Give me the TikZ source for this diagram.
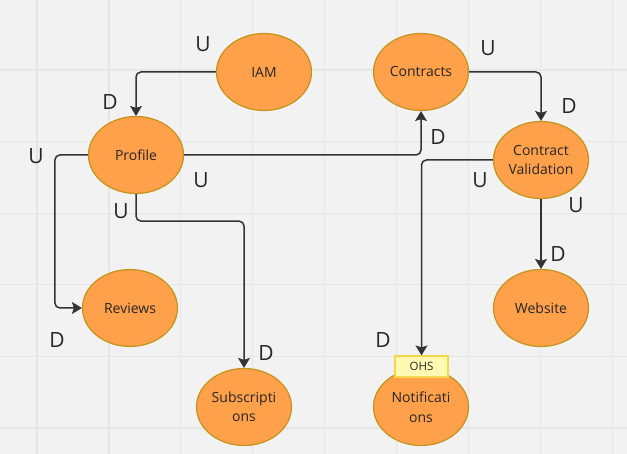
\documentclass[tikz,border=0pt]{standalone}
\usepackage{fontspec}
\setmainfont{Open Sans}
\usetikzlibrary{shapes,arrows.meta,calc,positioning}

\definecolor{bgcol}{HTML}{F2F2F2}
\definecolor{gridcol}{HTML}{E6E6E6}
\definecolor{ballfill}{HTML}{FFA04B}
\definecolor{balledge}{HTML}{C4931A}
\definecolor{linecol}{HTML}{333333}
\definecolor{notefill}{HTML}{FFF9B1}
\definecolor{noteedge}{HTML}{F5D84A}

\begin{document}
\begin{tikzpicture}[x=1pt,y=-1pt]

\tikzset{ctx/.style = {shape=ellipse,draw=balledge,fill=ballfill,line width=1.2pt,
  minimum width=95pt,minimum height=77pt,inner sep=0pt,align=center,
  text=black!85,font=\fontsize{14}{19.5}\selectfont}}
\tikzset{edge/.style = {->,line width=1.5pt,draw=linecol,rounded corners=5pt,
  > = {Stealth[length=10pt,width=12pt,inset=2pt]}}}
\tikzset{rel/.style = {text=black!85,font=\fontsize{21}{21}\selectfont}}

% background
\fill[bgcol] (0,0) rectangle (627,454);
\useasboundingbox (0,0) rectangle (627,454);
\foreach \gx in {37,108.9,...,613} \draw[gridcol,line width=1.2pt] (\gx,0) -- (\gx,454);
\foreach \gy in {70,141.6,...,429} \draw[gridcol,line width=1.2pt] (0,\gy) -- (627,\gy);

% contexts
\node[ctx] (iam) at (264,72) {IAM};
\node[ctx] (profile) at (136,155) {Profile};
\node[ctx] (contracts) at (421,72) {Contracts};
\node[ctx] (valid) at (541,160) {Contract\\Validation};
\node[ctx] (reviews) at (130,308) {Reviews};
\node[ctx] (subs) at (244,407) {Subscripti\\ons};
\node[ctx] (website) at (541,308) {Website};
\node[ctx] (notif) at (421,407) {Notificati\\ons};
\node[draw=noteedge,fill=notefill,line width=1.2pt,minimum width=53pt,minimum height=21pt,
  inner sep=0pt,text=black!85,font=\fontsize{11.5}{11.5}\selectfont] (ohs) at (421.5,366.5) {OHS};

%edges
\draw[edge] (iam.west) -| (profile.north);
\draw[edge] (profile.east) -| (contracts.south);
\draw[edge] (contracts.east) -| (valid.north);
\draw[edge] (valid.west) -| (ohs.north);
\draw[edge] (valid.south) -- (website.north);
\draw[edge] (profile.west) -- ++(-33,0) |- (reviews.west);
\draw[edge] (profile.south) -- ++(0,27) -| (subs.north);

% U / D labels
\node[rel] (u1) at (203,44) {U};
\node[rel] (d1) at (110,102) {D};
\node[rel] (u2) at (201,180) {U};
\node[rel] (d2) at (438,137) {D};
\node[rel] (u3) at (488,48) {U};
\node[rel] (d3) at (569,106) {D};
\node[rel] (u4) at (480,180) {U};
\node[rel] (d4) at (383,340) {D};
\node[rel] (u5) at (576,205) {U};
\node[rel] (d5) at (558,254) {D};
\node[rel] (u6) at (36,156) {U};
\node[rel] (d6) at (57,340) {D};
\node[rel] (u7) at (121,211) {U};
\node[rel] (d7) at (266,353) {D};

\end{tikzpicture}
\end{document}
